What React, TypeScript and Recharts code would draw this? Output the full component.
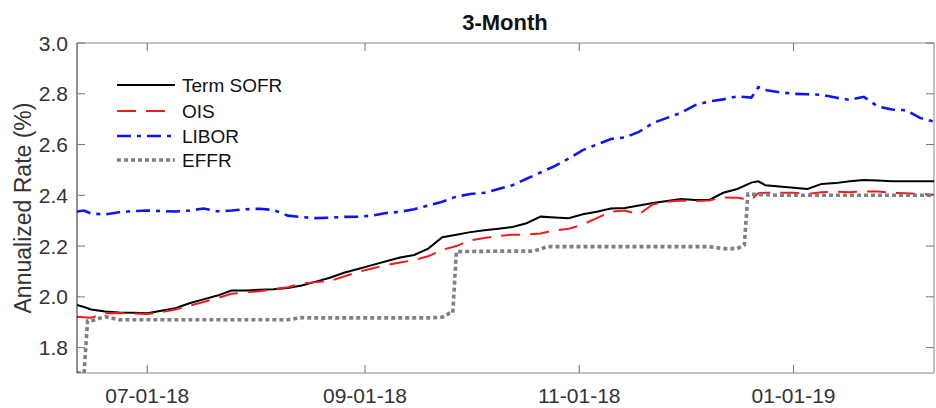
import React from "react"
import { LineChart, Line, XAxis, YAxis, ReferenceLine } from "recharts"

// days counted from 07-01-18
const days = [
  -20, -18, -16, -12, -8, -4, 0, 4, 8, 12, 16, 20, 24, 28, 32, 36, 40, 44, 48, 52, 56, 60, 64, 68,
  72, 76, 80, 84, 88, 92, 96, 100, 104, 108, 112, 116, 120, 124, 128, 132, 136, 140, 144, 148, 152,
  156, 160, 164, 168, 172, 174, 176, 180, 184, 188, 192, 196, 200, 204, 208, 212, 216, 220, 224,
]

const termSofr = [
  1.968, 1.96, 1.95, 1.942, 1.938, 1.937, 1.935, 1.945, 1.955, 1.975, 1.99, 2.005, 2.025, 2.025,
  2.028, 2.03, 2.035, 2.045, 2.06, 2.075, 2.095, 2.11, 2.125, 2.14, 2.155, 2.165, 2.19, 2.235,
  2.245, 2.255, 2.262, 2.268, 2.275, 2.29, 2.316, 2.313, 2.31, 2.325, 2.335, 2.348, 2.35, 2.36,
  2.37, 2.378, 2.385, 2.382, 2.382, 2.41, 2.425, 2.45, 2.455, 2.44, 2.435, 2.43, 2.425, 2.445,
  2.448, 2.455, 2.46, 2.458, 2.455, 2.455, 2.455, 2.455,
]

const ois = [
  1.922, 1.92, 1.918, 1.935, 1.936, 1.935, 1.932, 1.94, 1.95, 1.965, 1.98, 1.995, 2.012, 2.018,
  2.022, 2.03, 2.038, 2.052, 2.058, 2.062, 2.08, 2.098, 2.112, 2.125, 2.135, 2.145, 2.16, 2.185,
  2.2, 2.222, 2.232, 2.24, 2.245, 2.245, 2.25, 2.262, 2.268, 2.285, 2.31, 2.335, 2.34, 2.325,
  2.365, 2.375, 2.38, 2.377, 2.38, 2.392, 2.39, 2.383, 2.408, 2.41, 2.41, 2.41, 2.405, 2.412,
  2.415, 2.412, 2.415, 2.415, 2.41, 2.408, 2.405, 2.402,
]

const libor = [
  2.336, 2.34, 2.328, 2.325, 2.333, 2.338, 2.34, 2.338, 2.336, 2.34, 2.348, 2.337, 2.34, 2.345,
  2.347, 2.342, 2.32, 2.314, 2.31, 2.312, 2.315, 2.316, 2.32, 2.33, 2.335, 2.345, 2.36, 2.375,
  2.395, 2.405, 2.41, 2.425, 2.44, 2.465, 2.49, 2.515, 2.545, 2.578, 2.6, 2.622, 2.628, 2.65,
  2.685, 2.705, 2.725, 2.755, 2.77, 2.778, 2.79, 2.785, 2.826, 2.815, 2.806, 2.8, 2.798, 2.796,
  2.785, 2.776, 2.788, 2.75, 2.738, 2.735, 2.705, 2.69,
]

// EFFR is a step series, kept on its own days
const effrDays = [
  -20, -18, -17, -16, -12, -8, 0, 20, 40, 44, 48, 60, 80, 84, 86, 87, 88, 100, 110, 114, 130, 150,
  160, 164, 168, 170, 171, 180, 200, 224,
]
const effr = [
  1.7, 1.7, 1.905, 1.905, 1.922, 1.91, 1.91, 1.91, 1.91, 1.918, 1.917, 1.917, 1.917, 1.92, 1.935,
  1.936, 2.178, 2.18, 2.18, 2.198, 2.198, 2.198, 2.198, 2.19, 2.19, 2.205, 2.405, 2.4, 2.4, 2.4,
]

const tickDays = [0, 62, 123, 184]
const tickLabels = ["07-01-18", "09-01-18", "11-01-18", "01-01-19"]
const yTicks = [1.8, 2.0, 2.2, 2.4, 2.6, 2.8, 3.0]

const data = days.map((day, i) => ({
  day,
  sofr: termSofr[i],
  ois: ois[i],
  libor: libor[i],
}))
const effrData = effrDays.map((day, i) => ({ day, effr: effr[i] }))

const series = [
  { key: "sofr", name: "Term SOFR", color: "#000000", width: 2, dash: undefined },
  { key: "ois", name: "OIS", color: "#ee1c1c", width: 2, dash: "19 10" },
  { key: "libor", name: "LIBOR", color: "#0a14ff", width: 2.6, dash: "14 6 4 6" },
  { key: "effr", name: "EFFR", color: "#808080", width: 3.6, dash: "4 3" },
]

const FONT = "'Liberation Sans', Arial, Helvetica, sans-serif"
const PLOT_TOP = 43
const PLOT_RIGHT = 934
const TICK = 8

function XTick(props: any) {
  const { x, y, payload } = props
  const label = tickLabels[tickDays.indexOf(payload.value)]
  return (
    <g>
      <line x1={x} x2={x} y1={y} y2={y - TICK} stroke="#777" />
      <line x1={x} x2={x} y1={PLOT_TOP} y2={PLOT_TOP + TICK} stroke="#777" />
      <text x={x} y={y + 30} textAnchor="middle" fontSize={21} fill="#333" fontFamily={FONT}>
        {label}
      </text>
    </g>
  )
}

function YTick(props: any) {
  const { x, y, payload } = props
  return (
    <g>
      <line x1={x} x2={x + TICK} y1={y} y2={y} stroke="#777" />
      <line x1={PLOT_RIGHT - TICK} x2={PLOT_RIGHT} y1={y} y2={y} stroke="#777" />
      <text x={x - 9} y={y + 7.5} textAnchor="end" fontSize={21} fill="#333" fontFamily={FONT}>
        {Number(payload.value).toFixed(1)}
      </text>
    </g>
  )
}

function Overlay() {
  const rows = [85, 111, 136, 160]
  return (
    <svg
      width={936}
      height={408}
      style={{ position: "absolute", left: 0, top: 0, pointerEvents: "none" }}
    >
      <text x={505} y={30} textAnchor="middle" fontSize={22} fontWeight="bold" fill="#111" fontFamily={FONT}>
        3-Month
      </text>
      <text
        x={23}
        y={208}
        transform="rotate(-90, 23, 208)"
        textAnchor="middle"
        dominantBaseline="central"
        fontSize={23}
        fill="#333"
        fontFamily={FONT}
      >
        Annualized Rate (%)
      </text>
      {series.map((s, i) => (
        <g key={s.key}>
          <line
            x1={117}
            x2={175}
            y1={rows[i]}
            y2={rows[i]}
            stroke={s.color}
            strokeWidth={s.width}
            strokeDasharray={s.dash}
          />
          <text x={182} y={rows[i] + 7} fontSize={19} fill="#111" fontFamily={FONT}>
            {s.name}
          </text>
        </g>
      ))}
    </svg>
  )
}

export default function App() {
  return (
    <div style={{ position: "absolute", left: 0, top: 0, width: 936, height: 408, background: "#fff" }}>
      <LineChart
        width={936}
        height={408}
        data={data}
        margin={{ top: 43, right: 2, bottom: 0, left: 10 }}
      >
        <XAxis
          dataKey="day"
          type="number"
          domain={[-20, 224]}
          allowDataOverflow
          ticks={tickDays}
          height={35}
          tickLine={false}
          tickSize={0}
          tickMargin={0}
          axisLine={{ stroke: "#888" }}
          tick={<XTick />}
        />
        <YAxis
          type="number"
          domain={[1.7, 3.0]}
          allowDataOverflow
          ticks={yTicks}
          width={67}
          tickLine={false}
          tickSize={0}
          tickMargin={0}
          axisLine={{ stroke: "#222" }}
          tick={<YTick />}
        />
        <ReferenceLine y={3.0} stroke="#888" />
        <ReferenceLine x={224} stroke="#888" />
        <Line
          dataKey="sofr"
          type="linear"
          stroke="#000000"
          strokeWidth={2}
          dot={false}
          activeDot={false}
          isAnimationActive={false}
        />
        <Line
          dataKey="ois"
          type="linear"
          stroke="#ee1c1c"
          strokeWidth={2}
          strokeDasharray="19 10"
          dot={false}
          activeDot={false}
          isAnimationActive={false}
        />
        <Line
          dataKey="libor"
          type="linear"
          stroke="#0a14ff"
          strokeWidth={2.6}
          strokeDasharray="14 6 4 6"
          dot={false}
          activeDot={false}
          isAnimationActive={false}
        />
        <Line
          data={effrData}
          dataKey="effr"
          type="linear"
          stroke="#808080"
          strokeWidth={3.6}
          strokeDasharray="4 3"
          dot={false}
          activeDot={false}
          isAnimationActive={false}
        />
      </LineChart>
      <Overlay />
    </div>
  )
}
